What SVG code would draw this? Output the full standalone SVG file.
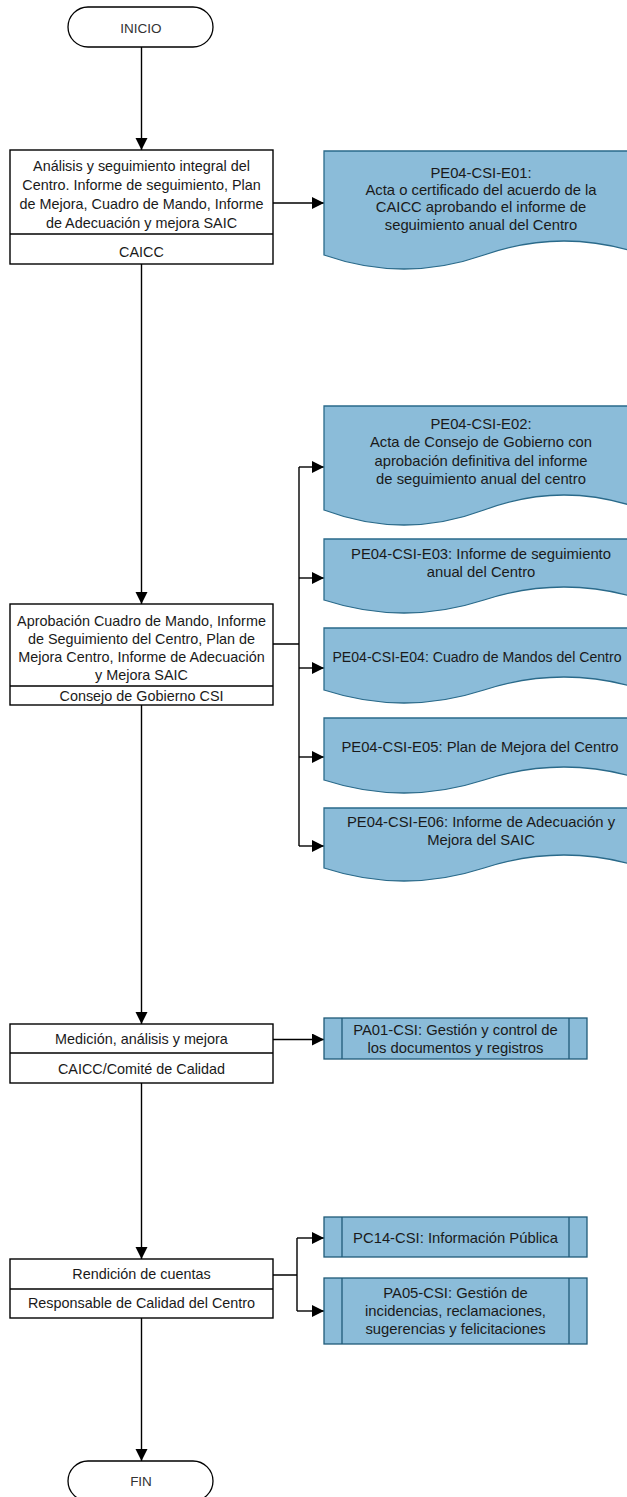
<svg xmlns="http://www.w3.org/2000/svg" width="627" height="1497" viewBox="0 0 627 1497">
<defs>
<marker id="ah" markerUnits="userSpaceOnUse" markerWidth="13" markerHeight="13" refX="12" refY="6" orient="auto">
<path d="M0,0 L12,6 L0,12 Z" fill="#000"/>
</marker>
<style>
text{font-family:"Liberation Sans",Arial,sans-serif;fill:#1a1a1a;text-anchor:middle}
.t{font-size:13.5px;fill:#333}
.b{font-size:14.4px}
.d{font-size:14.8px}
.box{fill:#fff;stroke:#000;stroke-width:1.4}
.term{fill:#fff;stroke:#000;stroke-width:1.3}
.doc{fill:#8bbcd9;stroke:#2a6a8a;stroke-width:1.3}
.pp{fill:#8bbcd9;stroke:#1f5a78;stroke-width:1.3}
.c{fill:none;stroke:#000;stroke-width:1.4}
.a{marker-end:url(#ah)}
</style>
</defs>
<rect width="627" height="1497" fill="#fff"/>

<g id="connectors">
<path class="c a" d="M141.5,47 V150"/>
<path class="c a" d="M141.5,264 V604"/>
<path class="c a" d="M141.5,705 V1024"/>
<path class="c a" d="M141.5,1083 V1259"/>
<path class="c a" d="M141.5,1318 V1461"/>
<path class="c a" d="M273,203 H324"/>
<path class="c" d="M273,644 H299 M299,467 V846"/>
<path class="c a" d="M299,467 H324"/>
<path class="c a" d="M299,578 H324"/>
<path class="c a" d="M299,668 H324"/>
<path class="c a" d="M299,757 H324"/>
<path class="c a" d="M299,846 H324"/>
<path class="c a" d="M273,1039.5 H324"/>
<path class="c" d="M273,1275 H297 M297,1238 V1311"/>
<path class="c a" d="M297,1238 H324"/>
<path class="c a" d="M297,1311 H324"/>
</g>

<g id="inicio">
<rect class="term" x="68" y="7" width="145" height="40" rx="20"/>
<text class="t" x="141" y="32.5">INICIO</text>
</g>

<g id="analisis">
<rect class="box" x="10" y="150" width="263" height="114"/>
<line class="box" x1="10" y1="234" x2="273" y2="234"/>
<text class="b" x="141.5" y="171">Análisis y seguimiento integral del</text>
<text class="b" x="141.5" y="190">Centro. Informe de seguimiento, Plan</text>
<text class="b" x="141.5" y="209">de Mejora, Cuadro de Mando, Informe</text>
<text class="b" x="141.5" y="228">de Adecuación y mejora SAIC</text>
<text class="b" x="141.5" y="257">CAICC</text>
</g>

<g id="e01">
<path class="doc" d="M324,151 H644 V255 Q564,227 484,255 T324,255 Z"/>
<text class="d" x="481" y="178">PE04-CSI-E01:</text>
<text class="d" x="481" y="195">Acta o certificado del acuerdo de la</text>
<text class="d" x="481" y="212">CAICC aprobando el informe de</text>
<text class="d" x="481" y="229.5">seguimiento anual del Centro</text>
</g>

<g id="e02">
<path class="doc" d="M324,406 H644 V510 Q564,480 484,510 T324,510 Z"/>
<text class="d" x="481" y="428.5">PE04-CSI-E02:</text>
<text class="d" x="481" y="447">Acta de Consejo de Gobierno con</text>
<text class="d" x="481" y="465.5">aprobación definitiva del informe</text>
<text class="d" x="481" y="484">de seguimiento anual del centro</text>
</g>

<g id="e03">
<path class="doc" d="M324,539 H644 V600 Q564,574 484,600 T324,600 Z"/>
<text class="d" x="481" y="559">PE04-CSI-E03: Informe de seguimiento</text>
<text class="d" x="481" y="577">anual del Centro</text>
</g>

<g id="e04">
<path class="doc" d="M324,628 H644 V690 Q564,664 484,690 T324,690 Z"/>
<text class="d" x="477" y="662" style="font-size:14.1px">PE04-CSI-E04: Cuadro de Mandos del Centro</text>
</g>

<g id="e05">
<path class="doc" d="M324,718 H644 V780 Q564,754 484,780 T324,780 Z"/>
<text class="d" x="480" y="752">PE04-CSI-E05: Plan de Mejora del Centro</text>
</g>

<g id="e06">
<path class="doc" d="M324,808 H644 V868 Q564,842 484,868 T324,868 Z"/>
<text class="d" x="481" y="827">PE04-CSI-E06: Informe de Adecuación y</text>
<text class="d" x="481" y="845">Mejora del SAIC</text>
</g>

<g id="aprobacion">
<rect class="box" x="10" y="604" width="263" height="101"/>
<line class="box" x1="10" y1="686" x2="273" y2="686"/>
<text class="b" x="141.5" y="626">Aprobación Cuadro de Mando, Informe</text>
<text class="b" x="141.5" y="644">de Seguimiento del Centro, Plan de</text>
<text class="b" x="141.5" y="662">Mejora Centro, Informe de Adecuación</text>
<text class="b" x="141.5" y="680">y Mejora SAIC</text>
<text class="b" x="141.5" y="701">Consejo de Gobierno CSI</text>
</g>

<g id="medicion">
<rect class="box" x="10" y="1024" width="263" height="59"/>
<line class="box" x1="10" y1="1053" x2="273" y2="1053"/>
<text class="b" x="141.5" y="1044">Medición, análisis y mejora</text>
<text class="b" x="141.5" y="1074">CAICC/Comité de Calidad</text>
</g>

<g id="pa01">
<rect class="pp" x="324" y="1018" width="263" height="41"/>
<line class="pp" x1="342" y1="1018" x2="342" y2="1059"/>
<line class="pp" x1="569" y1="1018" x2="569" y2="1059"/>
<text class="d" x="455.5" y="1035">PA01-CSI: Gestión y control de</text>
<text class="d" x="455.5" y="1053">los documentos y registros</text>
</g>

<g id="rendicion">
<rect class="box" x="10" y="1259" width="263" height="59"/>
<line class="box" x1="10" y1="1289" x2="273" y2="1289"/>
<text class="b" x="141.5" y="1279">Rendición de cuentas</text>
<text class="b" x="141.5" y="1308">Responsable de Calidad del Centro</text>
</g>

<g id="pc14">
<rect class="pp" x="324" y="1217" width="263" height="40"/>
<line class="pp" x1="342" y1="1217" x2="342" y2="1257"/>
<line class="pp" x1="569" y1="1217" x2="569" y2="1257"/>
<text class="d" x="455.5" y="1243">PC14-CSI: Información Pública</text>
</g>

<g id="pa05">
<rect class="pp" x="324" y="1278" width="263" height="66"/>
<line class="pp" x1="342" y1="1278" x2="342" y2="1344"/>
<line class="pp" x1="569" y1="1278" x2="569" y2="1344"/>
<text class="d" x="455.5" y="1298">PA05-CSI: Gestión de</text>
<text class="d" x="455.5" y="1316">incidencias, reclamaciones,</text>
<text class="d" x="455.5" y="1334">sugerencias y felicitaciones</text>
</g>

<g id="fin">
<rect class="term" x="68" y="1461" width="145" height="40" rx="20"/>
<text class="t" x="141" y="1486">FIN</text>
</g>
</svg>
